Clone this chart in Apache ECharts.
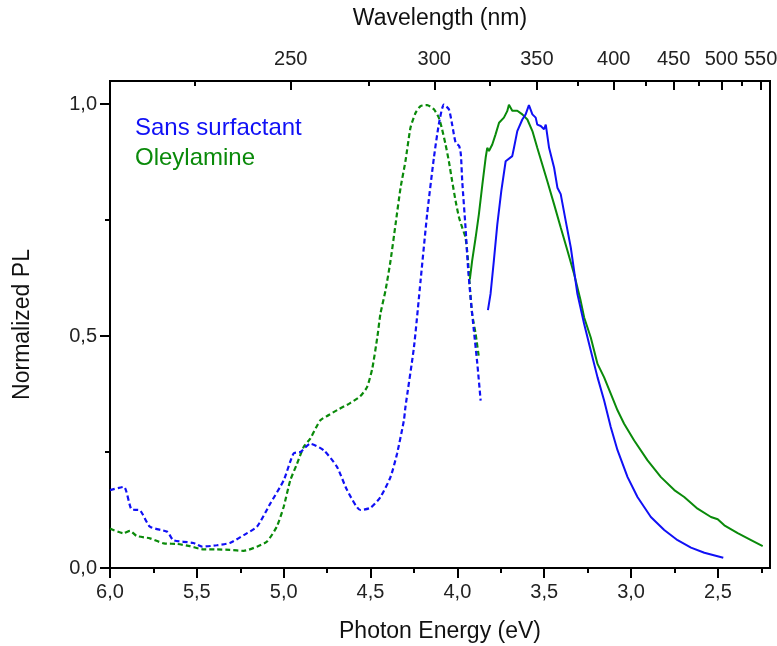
<!DOCTYPE html>
<html>
<head>
<meta charset="utf-8">
<script src="https://cdn.jsdelivr.net/npm/echarts@6/dist/echarts.min.js"></script>
<style>html,body{margin:0;padding:0;background:#fff;}#c{width:777px;height:646px;}</style>
</head>
<body>
<div id="c"></div>
<script>
// ---- data (Photon energy in eV, normalized PL) ----
const blueExE = [6.0, 5.92, 5.875, 5.83, 5.77, 5.67, 5.635, 5.52, 5.47, 5.385, 5.31, 5.23, 5.154, 5.077, 5.0, 4.943, 4.904, 4.847, 4.77, 4.693, 4.635, 4.558, 4.5, 4.443, 4.385, 4.347, 4.308, 4.299, 4.25, 4.212, 4.174, 4.135, 4.107, 4.078, 4.049, 4.03, 4.01, 3.99, 3.98, 3.972, 3.953, 3.94, 3.924, 3.905, 3.885, 3.866];
const blueExY = [0.168, 0.175, 0.126, 0.125, 0.089, 0.078, 0.06, 0.054, 0.046, 0.049, 0.054, 0.071, 0.089, 0.139, 0.189, 0.247, 0.25, 0.268, 0.254, 0.218, 0.168, 0.125, 0.13, 0.153, 0.196, 0.247, 0.318, 0.347, 0.476, 0.619, 0.763, 0.885, 0.956, 0.999, 0.989, 0.956, 0.917, 0.91, 0.892, 0.834, 0.734, 0.655, 0.583, 0.512, 0.44, 0.361];

const greenExE = [6.0, 5.923, 5.885, 5.846, 5.77, 5.69, 5.615, 5.54, 5.46, 5.385, 5.31, 5.23, 5.154, 5.096, 5.04, 5.0, 4.962, 4.923, 4.885, 4.847, 4.79, 4.74, 4.68, 4.62, 4.56, 4.52, 4.49, 4.46, 4.443, 4.414, 4.385, 4.356, 4.327, 4.299, 4.27, 4.241, 4.212, 4.174, 4.135, 4.107, 4.088, 4.068, 4.049, 4.03, 4.01, 3.99, 3.972, 3.953, 3.94, 3.928, 3.915, 3.895, 3.876];
const greenExY = [0.085, 0.075, 0.08, 0.069, 0.064, 0.053, 0.052, 0.047, 0.04, 0.04, 0.039, 0.037, 0.046, 0.057, 0.089, 0.132, 0.189, 0.225, 0.261, 0.279, 0.318, 0.33, 0.343, 0.355, 0.37, 0.39, 0.43, 0.50, 0.548, 0.598, 0.662, 0.741, 0.82, 0.877, 0.949, 0.981, 0.996, 0.998, 0.989, 0.971, 0.946, 0.913, 0.877, 0.834, 0.791, 0.755, 0.734, 0.712, 0.669, 0.605, 0.548, 0.505, 0.454];

const blueEmE = [3.824, 3.809, 3.79, 3.77, 3.747, 3.722, 3.684, 3.674, 3.655, 3.626, 3.607, 3.588, 3.578, 3.568, 3.549, 3.54, 3.52, 3.501, 3.491, 3.472, 3.443, 3.424, 3.405, 3.376, 3.347, 3.309, 3.27, 3.232, 3.193, 3.155, 3.117, 3.078, 3.02, 2.963, 2.886, 2.809, 2.732, 2.655, 2.578, 2.469];
const blueEmY = [0.556, 0.591, 0.662, 0.741, 0.813, 0.877, 0.888, 0.906, 0.942, 0.967, 0.978, 0.998, 0.999, 0.978, 0.971, 0.956, 0.953, 0.946, 0.956, 0.906, 0.863, 0.82, 0.806, 0.748, 0.691, 0.591, 0.526, 0.469, 0.411, 0.361, 0.304, 0.254, 0.196, 0.153, 0.11, 0.082, 0.06, 0.044, 0.033, 0.022];

const greenEmE = [3.928, 3.915, 3.895, 3.876, 3.856, 3.837, 3.828, 3.818, 3.799, 3.78, 3.76, 3.732, 3.713, 3.703, 3.684, 3.655, 3.626, 3.597, 3.568, 3.54, 3.511, 3.482, 3.443, 3.405, 3.366, 3.328, 3.29, 3.27, 3.232, 3.193, 3.155, 3.117, 3.078, 3.04, 2.982, 2.905, 2.828, 2.751, 2.694, 2.617, 2.54, 2.501, 2.463, 2.386, 2.309, 2.242];
const greenEmY = [0.623, 0.662, 0.712, 0.763, 0.827, 0.885, 0.906, 0.899, 0.913, 0.935, 0.96, 0.971, 0.985, 0.999, 0.986, 0.986, 0.978, 0.967, 0.942, 0.906, 0.87, 0.834, 0.784, 0.734, 0.684, 0.634, 0.576, 0.54, 0.497, 0.44, 0.411, 0.376, 0.34, 0.311, 0.275, 0.232, 0.196, 0.168, 0.153, 0.128, 0.11, 0.105, 0.092, 0.075, 0.06, 0.047];

// ---- tick labels ----
const energyTicks = [2.5, 3.0, 3.5, 4.0, 4.5, 5.0, 5.5, 6.0];
const energyMinor = [2.25, 2.75, 3.25, 3.75, 4.25, 4.75, 5.25, 5.75];
const wlTicks = [250, 300, 350, 400, 450, 500, 550];
const wlMinor = [225, 275, 325, 375, 425, 475, 525];
const yTicks = [0, 0.5, 1.0];
const yMinor = [0.25, 0.75];
const legendNames = ['Sans surfactant', 'Oleylamine'];

const HC = 1239.84;
const X_MIN = 2.2, X_MAX = 6.0, Y_MAX = 1.05;
const BLUE = '#1010f5', GREEN = '#0a8a0a';
const FONT = 'Liberation Sans, Arial, sans-serif';
const comma = v => v.toFixed(1).replace('.', ',');
const zip = (a, b) => a.map((v, i) => [v, b[i]]);

const baseX = {
  type: 'value', min: X_MIN, max: X_MAX, inverse: true, gridIndex: 0,
  splitLine: { show: false }, minorTick: { show: false }
};

const chart = echarts.init(document.getElementById('c'), null, { renderer: 'canvas' });
chart.setOption({
  animation: false,
  backgroundColor: '#fff',
  grid: { left: 110, right: 7, top: 81, bottom: 78, containLabel: false, outerBoundsMode: 'none',
    show: true, borderColor: '#000', borderWidth: 2, backgroundColor: 'transparent' },
  xAxis: [
    Object.assign({}, baseX, {
      position: 'bottom',
      name: 'Photon Energy (eV)', nameLocation: 'middle', nameGap: 52,
      nameTextStyle: { fontFamily: FONT, fontSize: 23, color: '#111' },
      axisLine: { show: true, onZero: false, lineStyle: { color: '#000', width: 2 } },
      axisTick: { show: true, inside: false, length: 10, lineStyle: { color: '#000', width: 2 }, customValues: energyTicks },
      axisLabel: { show: true, margin: 14, fontFamily: FONT, fontSize: 20, color: '#222', formatter: comma, customValues: energyTicks, hideOverlap: false }
    }),
    Object.assign({}, baseX, {
      position: 'bottom',
      axisLine: { show: false, onZero: false },
      axisTick: { show: true, inside: false, length: 5, lineStyle: { color: '#000', width: 2 }, customValues: energyMinor },
      axisLabel: { show: false }
    }),
    Object.assign({}, baseX, {
      position: 'top',
      name: 'Wavelength (nm)', nameLocation: 'middle', nameGap: 51,
      nameTextStyle: { fontFamily: FONT, fontSize: 23, color: '#111' },
      axisLine: { show: true, onZero: false, lineStyle: { color: '#000', width: 2 } },
      axisTick: { show: true, inside: true, length: 9, lineStyle: { color: '#000', width: 2 }, customValues: wlTicks.map(w => HC / w) },
      axisLabel: { show: true, margin: 12, fontFamily: FONT, fontSize: 20, color: '#222', hideOverlap: false,
        formatter: v => String(Math.round(HC / v / 5) * 5), customValues: wlTicks.map(w => HC / w) }
    }),
    Object.assign({}, baseX, {
      position: 'top',
      axisLine: { show: false, onZero: false },
      axisTick: { show: true, inside: true, length: 5, lineStyle: { color: '#000', width: 2 }, customValues: wlMinor.map(w => HC / w) },
      axisLabel: { show: false }
    })
  ],
  yAxis: [
    {
      type: 'value', min: 0, max: Y_MAX, position: 'left',
      name: 'Normalized PL', nameLocation: 'middle', nameGap: 76,
      nameTextStyle: { fontFamily: FONT, fontSize: 23, color: '#111' },
      splitLine: { show: false },
      axisLine: { show: true, onZero: false, lineStyle: { color: '#000', width: 2 } },
      axisTick: { show: true, inside: false, length: 10, lineStyle: { color: '#000', width: 2 }, customValues: yTicks },
      axisLabel: { show: true, margin: 13, fontFamily: FONT, fontSize: 20, color: '#222', formatter: comma, customValues: yTicks }
    },
    {
      type: 'value', min: 0, max: Y_MAX, position: 'left',
      splitLine: { show: false },
      axisLine: { show: false, onZero: false },
      axisTick: { show: true, inside: false, length: 5, lineStyle: { color: '#000', width: 2 }, customValues: yMinor },
      axisLabel: { show: false }
    }
  ],
  graphic: [
    { type: 'text', left: 135, top: 116, style: { text: legendNames[0], fill: BLUE, font: '24px ' + FONT } },
    { type: 'text', left: 135, top: 146, style: { text: legendNames[1], fill: GREEN, font: '24px ' + FONT } }
  ],
  series: [
    { name: legendNames[1] + ' exc', type: 'line', xAxisIndex: 0, yAxisIndex: 0, data: zip(greenExE, greenExY),
      showSymbol: false, smooth: 0.2, lineStyle: { color: GREEN, width: 2.2, type: [5, 3] } },
    { name: legendNames[0] + ' exc', type: 'line', xAxisIndex: 0, yAxisIndex: 0, data: zip(blueExE, blueExY),
      showSymbol: false, smooth: 0.2, lineStyle: { color: BLUE, width: 2.2, type: [5, 3] } },
    { name: legendNames[1], type: 'line', xAxisIndex: 0, yAxisIndex: 0, data: zip(greenEmE, greenEmY),
      showSymbol: false, lineStyle: { color: GREEN, width: 2 } },
    { name: legendNames[0], type: 'line', xAxisIndex: 0, yAxisIndex: 0, data: zip(blueEmE, blueEmY),
      showSymbol: false, lineStyle: { color: BLUE, width: 2 } }
  ]
});
</script>
</body>
</html>
